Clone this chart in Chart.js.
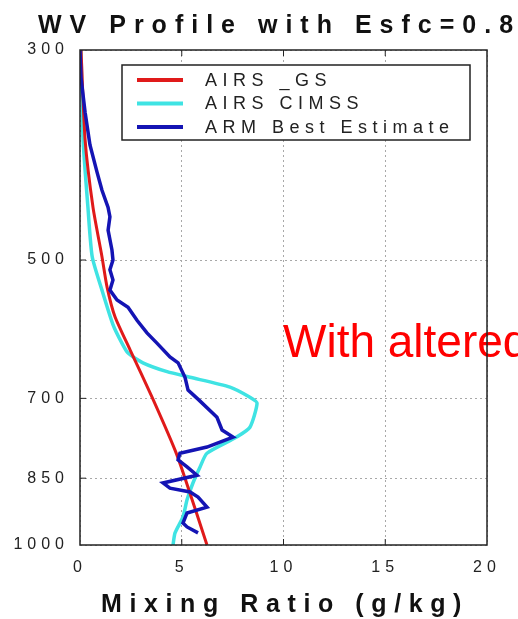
<!DOCTYPE html>
<html>
<head>
<meta charset="utf-8">
<script src="https://cdn.jsdelivr.net/npm/chart.js@4.4.1/dist/chart.umd.min.js"></script>
<style>
  html, body { margin: 0; padding: 0; background: #fff; overflow: hidden; }
  #wrap { position: relative; width: 518px; height: 619px; }
</style>
</head>
<body>
<div id="wrap"><canvas id="wvChart"></canvas></div>
<script>
// Pressure levels (hPa) and mixing ratio (g/kg)
const pressGs = [300, 373, 440, 496, 534, 574, 622, 698, 794, 850, 1000];
const airsGs = [0.05, 0.25, 0.64, 1.08, 1.33, 1.72, 2.46, 3.54, 4.67, 5.16, 6.24];

const pressCimss = [300, 373, 440, 496, 538, 585, 612, 627, 642, 656, 665, 681, 698, 708, 751, 769, 800, 827, 860, 896, 934, 971, 1000];
const airsCimss = [0.05, 0.15, 0.39, 0.6, 1.08, 1.62, 2.06, 2.36, 3.09, 4.28, 5.4, 7.37, 8.35, 8.7, 8.35, 7.7, 6.24, 5.9, 5.55, 5.26, 5.06, 4.67, 4.57];

const pressArm = [300, 321, 349, 378, 404, 422, 440, 450, 465, 488, 500, 512, 525, 538, 551, 561, 579, 597, 612, 633, 642, 665, 686, 703, 733, 756, 769, 788, 800, 813, 827, 844, 860, 871, 879, 890, 912, 925, 948, 957, 971];
const armBest = [0.0, 0.05, 0.25, 0.49, 0.84, 1.08, 1.38, 1.47, 1.38, 1.57, 1.62, 1.47, 1.62, 1.47, 1.82, 2.36, 2.80, 3.29, 3.78, 4.42, 4.82, 5.16, 5.31, 5.85, 6.73, 6.98, 7.52, 6.24, 4.91, 4.82, 5.26, 5.75, 4.08, 4.42, 5.41, 5.8, 6.24, 5.26, 5.06, 5.26, 5.8];

const seriesNames = ['AIRS _GS', 'AIRS CIMSS', 'ARM Best Estimate'];
const pressureTicks = [300, 500, 700, 850, 1000];
const mixingTicks = [0, 5, 10, 15, 20];

const titleText = 'WV Profile with Esfc=0.80';
const xTitleText = 'Mixing Ratio (g/kg)';
const noteText = 'With altered';

const FONT = '"Liberation Sans", Arial, Helvetica, sans-serif';

function pairs(xs, ps) {
    return xs.map((v, i) => ({ x: v, y: ps[i] }));
}

// titles, red note, boxed legend and frame
const decorPlugin = {
    id: 'decor',
    beforeDraw(chart) {
        // spaced-out lettering for tick labels
        chart.ctx.letterSpacing = '5px';
    },
    beforeDatasetsDraw(chart) {
        const ctx = chart.ctx;
        ctx.save();
        ctx.letterSpacing = '0px';
        ctx.fillStyle = '#ff0000';
        ctx.font = '46px ' + FONT;
        ctx.textBaseline = 'alphabetic';
        ctx.fillText(noteText, 283, 357);
        ctx.restore();
    },
    afterDraw(chart) {
        const ctx = chart.ctx;
        const a = chart.chartArea;
        const xs = chart.scales.x;
        const ys = chart.scales.y;

        ctx.save();
        // frame
        ctx.strokeStyle = '#222';
        ctx.lineWidth = 1.5;
        ctx.strokeRect(a.left, a.top, a.right - a.left, a.bottom - a.top);
        // inner tick marks
        ctx.lineWidth = 1;
        mixingTicks.slice(1, -1).forEach(v => {
            const px = xs.getPixelForValue(v);
            ctx.beginPath();
            ctx.moveTo(px, a.top); ctx.lineTo(px, a.top + 6);
            ctx.moveTo(px, a.bottom); ctx.lineTo(px, a.bottom - 6);
            ctx.stroke();
        });
        pressureTicks.slice(1, -1).forEach(v => {
            const py = ys.getPixelForValue(v);
            ctx.beginPath();
            ctx.moveTo(a.left, py); ctx.lineTo(a.left + 6, py);
            ctx.stroke();
        });

        // title
        ctx.fillStyle = '#111';
        ctx.textBaseline = 'alphabetic';
        ctx.textAlign = 'left';
        ctx.font = 'bold 25px ' + FONT;
        ctx.letterSpacing = '8px';
        ctx.fillText(titleText, 38, 33);

        // x axis title
        ctx.letterSpacing = '7.6px';
        ctx.fillText(xTitleText, 101, 612);

        // legend box
        const bx = a.left + 42, by = a.top + 15, bw = 348, bh = 75;
        ctx.fillStyle = '#fff';
        ctx.fillRect(bx, by, bw, bh);
        ctx.strokeStyle = '#222';
        ctx.lineWidth = 1.5;
        ctx.strokeRect(bx, by, bw, bh);
        ctx.font = '18px ' + FONT;
        ctx.letterSpacing = '5.5px';
        ctx.textBaseline = 'middle';
        chart.data.datasets.forEach((ds, i) => {
            const ly = by + 15 + i * 23.5;
            ctx.strokeStyle = ds.borderColor;
            ctx.lineWidth = 4;
            ctx.beginPath();
            ctx.moveTo(bx + 15, ly);
            ctx.lineTo(bx + 61, ly);
            ctx.stroke();
            ctx.fillStyle = '#222';
            ctx.fillText(ds.label, bx + 83, ly + 1);
        });
        ctx.restore();
    }
};

new Chart(document.getElementById('wvChart'), {
    type: 'scatter',
    data: {
        datasets: [
            {
                label: seriesNames[0],
                data: pairs(airsGs, pressGs),
                borderColor: '#e01a1a',
                borderWidth: 3,
                showLine: true,
                pointRadius: 0,
                tension: 0.2,
                order: 2
            },
            {
                label: seriesNames[1],
                data: pairs(airsCimss, pressCimss),
                borderColor: '#3fe3e3',
                borderWidth: 3.5,
                showLine: true,
                pointRadius: 0,
                tension: 0.2,
                order: 3
            },
            {
                label: seriesNames[2],
                data: pairs(armBest, pressArm),
                borderColor: '#1414b4',
                borderWidth: 3.5,
                showLine: true,
                pointRadius: 0,
                tension: 0,
                order: 1
            }
        ]
    },
    options: {
        responsive: true,
        maintainAspectRatio: false,
        animation: false,
        events: [],
        layout: {
            padding: { top: 50, right: 31, left: 0, bottom: 0 }
        },
        plugins: {
            legend: { display: false },
            title: { display: false },
            tooltip: { enabled: false }
        },
        scales: {
            x: {
                type: 'linear',
                min: 0,
                max: 20,
                afterFit: (scale) => { scale.height = 74; },
                afterBuildTicks: (scale) => {
                    scale.ticks = mixingTicks.map(v => ({ value: v }));
                },
                border: { display: false, dash: [2, 3] },
                grid: {
                    color: '#a8a8a8',
                    lineWidth: 1,
                    drawTicks: false
                },
                ticks: {
                    padding: 13,
                    color: '#222',
                    font: { family: FONT, size: 16 }
                }
            },
            y: {
                type: 'logarithmic',
                min: 300,
                max: 1000,
                reverse: true,
                afterFit: (scale) => { scale.width = 80; },
                afterBuildTicks: (scale) => {
                    scale.ticks = pressureTicks.map(v => ({ value: v }));
                },
                border: { display: false, dash: [2, 3] },
                grid: {
                    color: '#a8a8a8',
                    lineWidth: 1,
                    drawTicks: false
                },
                ticks: {
                    padding: 11,
                    color: '#222',
                    font: { family: FONT, size: 16 },
                    callback: (value) => String(value)
                }
            }
        }
    },
    plugins: [decorPlugin]
});
</script>
</body>
</html>
